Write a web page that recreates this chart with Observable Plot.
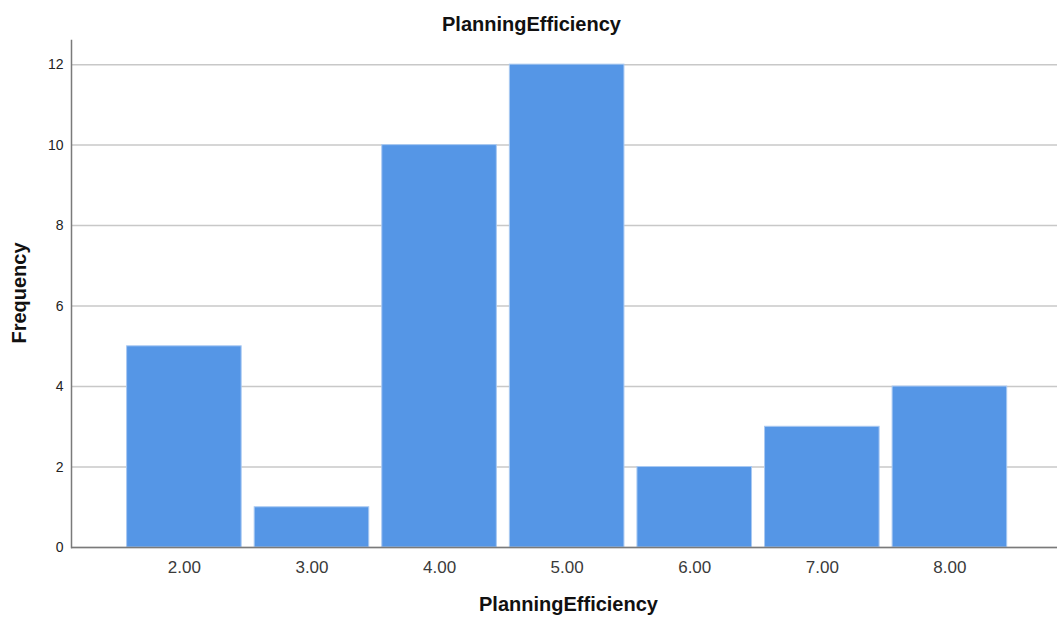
<!DOCTYPE html>
<html>
<head>
<meta charset="utf-8">
<script src="https://cdn.jsdelivr.net/npm/d3@7"></script>
<script src="https://cdn.jsdelivr.net/npm/@observablehq/plot@0.6"></script>
<style>
  html, body { margin: 0; padding: 0; background: #fff; }
  #chart svg { display: block; }
</style>
</head>
<body>
<div id="chart"></div>
<script>
const categories = ["2.00", "3.00", "4.00", "5.00", "6.00", "7.00", "8.00"];
const frequencies = [5, 1, 10, 12, 2, 3, 4];
const yTicks = [0, 2, 4, 6, 8, 10, 12];
const chartTitle = "PlanningEfficiency";
const xLabel = "PlanningEfficiency";
const yLabel = "Frequency";

const data = categories.map((c, i) => ({category: c, count: frequencies[i]}));

const font = "'Liberation Sans', Arial, sans-serif";

const chart = Plot.plot({
  width: 1058,
  height: 624,
  marginLeft: 71,
  marginRight: 1,
  marginTop: 40,
  marginBottom: 77,
  style: {fontFamily: font, background: "#fff", overflow: "visible"},
  x: {
    type: "band",
    domain: categories,
    paddingInner: 0.102,
    paddingOuter: 0.415,
    align: 0.525,
    round: false,
    label: null
  },
  y: {domain: [0, 12.6], label: null},
  marks: [
    Plot.gridY(yTicks, {stroke: "#c8c8c8", strokeOpacity: 1, strokeWidth: 1.5}),
    Plot.barY(data, {x: "category", y: "count", fill: "#5596e6", stroke: "#a9c9f2", strokeWidth: 1}),
    Plot.ruleY([0], {stroke: "#7a7a7a", strokeWidth: 1.5}),
    Plot.frame({anchor: "left", stroke: "#7a7a7a", strokeWidth: 1.5}),
    Plot.axisY(yTicks, {tickSize: 0, tickPadding: 8, fontSize: 14, fill: "#222", label: null}),
    Plot.axisX({tickSize: 0, tickPadding: 13, fontSize: 17, fill: "#3a3a3a", label: null}),
    Plot.text([chartTitle], {frameAnchor: "top", lineAnchor: "middle", textAnchor: "middle", dx: -33, dy: -16, fontSize: 20, fontWeight: "bold", fill: "#111"}),
    Plot.text([xLabel], {frameAnchor: "bottom", lineAnchor: "middle", textAnchor: "middle", dx: 4, dy: 57, fontSize: 20, fontWeight: "bold", fill: "#111"}),
    Plot.text([yLabel], {frameAnchor: "left", lineAnchor: "middle", textAnchor: "middle", dx: -52, dy: -1, rotate: -90, fontSize: 20, fontWeight: "bold", fill: "#111"})
  ]
});

document.getElementById("chart").appendChild(chart);
</script>
</body>
</html>
